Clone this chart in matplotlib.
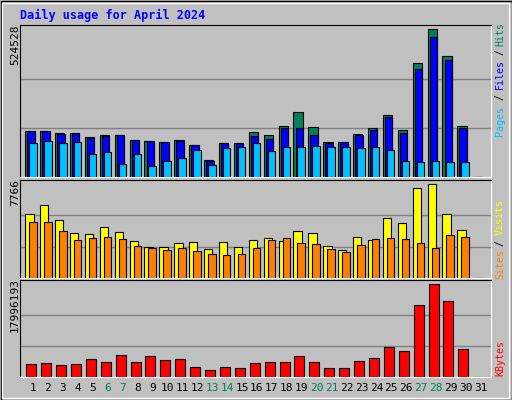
import matplotlib
matplotlib.use('Agg')
import matplotlib.pyplot as plt
from matplotlib.patches import Rectangle

# Daily usage, April 2024
days = list(range(1, 32))
hits = [54836, 54836, 52160, 52160, 47382, 49767, 49767, 44067, 42543, 41352, 44067, 37839,
        19869, 40150, 40150, 53367, 49767, 60401, 77165, 59208, 41352, 41352, 50958, 58014,
        73588, 55763, 135502, 174840, 143851, 60401, 0]
files = [54439, 54439, 50958, 52160, 46190, 48575, 49767, 43710, 42543, 41352, 42543, 37839,
         18677, 40150, 40150, 48575, 45002, 58014, 58014, 49767, 40150, 41352, 49767, 55763,
         71203, 52160, 127463, 165568, 138089, 58014, 0]
pages = [40150, 42543, 40150, 41352, 27048, 29432, 15132, 27048, 12748, 18677, 22255, 31814,
         13940, 34198, 35390, 40150, 30624, 35390, 35390, 36582, 35390, 35390, 34198, 35390,
         31814, 18677, 17485, 18677, 17485, 17485, 0]
scale_top = 524528 / 146.7
hits = [v * scale_top / 1192.1 for v in hits]
files = [v * scale_top / 1192.1 for v in files]
pages = [v * scale_top / 1192.1 for v in pages]

visits = [189, 216, 171, 132, 129, 150, 135, 108, 90, 90, 102, 105, 84, 105, 90, 111,
          117, 108, 138, 132, 93, 81, 120, 111, 177, 162, 264, 276, 189, 141, 0]
sites = [165, 165, 138, 111, 117, 120, 114, 93, 87, 81, 87, 78, 72, 69, 72, 87,
         111, 117, 102, 99, 84, 75, 96, 114, 117, 114, 102, 87, 126, 120, 0]
visits = [v / 276 * 7766 for v in visits]
sites = [v / 276 * 7766 for v in sites]

kbytes = [37, 40, 34, 37, 52, 43, 64, 43, 61, 49, 52, 28, 22, 28, 25, 40,
          43, 43, 61, 43, 25, 25, 46, 55, 88, 76, 211, 274, 223, 82, 0]
kbytes = [v / 274 * 17996193 for v in kbytes]

weekend = [6, 7, 13, 14, 20, 21, 27, 28]

W, H = 512, 400
BG = '#C0C0C0'
fig = plt.figure(figsize=(W / 100, H / 100), dpi=100, facecolor=BG)

def px_axes(x0, y0, x1, y1):
    ax = fig.add_axes([x0 / W, 1 - y1 / H, (x1 - x0) / W, (y1 - y0) / H])
    ax.set_facecolor(BG)
    ax.set_xlim(0.128, 31.74)
    ax.set_xticks([])
    ax.set_yticks([])
    for s in ['left', 'top']:
        ax.spines[s].set_color('black')
    for s in ['right', 'bottom']:
        ax.spines[s].set_color('white')
    return ax

def bars(ax, vals, off, width, color):
    ax.bar([d + off for d in days], vals, width=width, align='edge', color=color,
           edgecolor='black', linewidth=0.8, zorder=3)

def grid(ax, vmax):
    for f in (1 / 3, 2 / 3):
        ax.axhline(vmax * f, color='#808080', linewidth=1, zorder=1)

# top panel
ax1 = px_axes(20, 25, 491, 177)
bars(ax1, hits, -0.52, 0.63, '#00805C')
bars(ax1, files, -0.38, 0.5, '#0000FF')
bars(ax1, pages, -0.25, 0.5, '#00C0FF')
ax1.set_ylim(0, max(hits) * 151 / 146.7)
grid(ax1, max(hits))

# middle panel
ax2 = px_axes(20, 180, 491, 278)
bars(ax2, visits, -0.52, 0.56, '#FFFF00')
bars(ax2, sites, -0.25, 0.5, '#FF8000')
ax2.set_ylim(0, max(visits) * 96 / 92)
grid(ax2, max(visits))

# bottom panel
ax3 = px_axes(20, 280, 491, 377)
bars(ax3, kbytes, -0.45, 0.67, '#FF0000')
ax3.set_ylim(0, max(kbytes) * 95 / 91.3)
grid(ax3, max(kbytes))

def ftext(x, y, s, **kw):
    fig.text(x / W, 1 - y / H, s, family='DejaVu Sans Mono', **kw)

ftext(20, 15, 'Daily usage for April 2024', color='#0000FF', fontsize=8.5,
      fontweight='bold', va='center', ha='left')

ftext(15, 45, '524528', rotation=90, ha='center', va='center', fontsize=8)
ftext(15, 193, '7766', rotation=90, ha='center', va='center', fontsize=8)
ftext(15, 305, '17996193', rotation=90, ha='center', va='center', fontsize=8)

for word, y, c in [('Hits', 34, '#00805C'), ('/', 52, 'black'), ('Files', 74, '#0000FF'),
                   ('/', 97, 'black'), ('Pages', 121, '#00C0FF'),
                   ('Visits', 217, '#FFFF00'), ('/', 243, 'black'), ('Sites', 264, '#FF8000'),
                   ('KBytes', 358, '#FF0000')]:
    ftext(500, y, word, rotation=90, ha='center', va='center', fontsize=7.2, color=c)

for d in days:
    ftext(33 + (d - 1) * 14.93, 388, str(d), ha='center', va='center', fontsize=8,
          color='#00805C' if d in weekend else 'black')

# outer bevel
fig.add_artist(Rectangle((0.5 / W, 0.5 / H), (W - 1) / W, (H - 1) / H, transform=fig.transFigure,
                         fill=False, edgecolor='black', linewidth=1))
fig.add_artist(Rectangle((2 / W, 2 / H), (W - 5) / W, (H - 5) / H, transform=fig.transFigure,
                         fill=False, edgecolor='white', linewidth=1))

fig.savefig('out.png', dpi=100, facecolor=BG)
